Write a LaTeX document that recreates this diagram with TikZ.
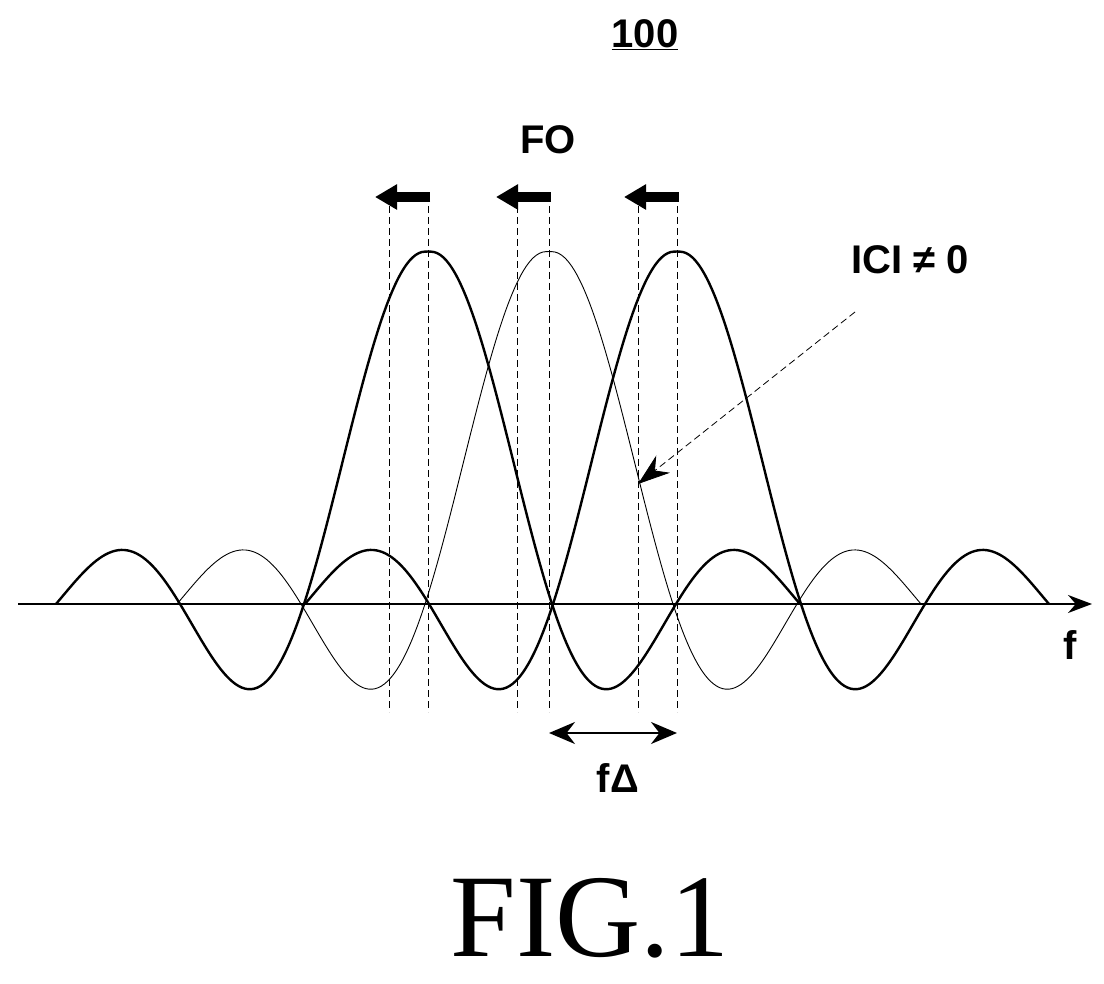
\documentclass[tikz,border=0pt]{standalone}
\usepackage{fontspec}
\setmainfont{Liberation Sans}
\newfontfamily\figfont{Liberation Serif}
\usetikzlibrary{arrows.meta}
\begin{document}
\begin{tikzpicture}[x=1pt,y=-1pt,
  thk/.style={line width=2.4pt},
  thn/.style={line width=0.9pt},
  dsh/.style={line width=0.8pt,dash pattern=on 7pt off 4pt},
  lbl/.style={font=\fontsize{40}{42}\selectfont\bfseries},
  blk/.style={line width=10pt,-{Triangle[length=22pt,width=24pt]}}]
\useasboundingbox (0,0) rectangle (1104,984);
\tikzset{sinc/.style={samples=241,domain=-3:3,smooth}}
% curves
\draw[thk] plot[sinc] ({428+124*\x},{604-352*(1+0.08*abs(\x))*sin(180*(\x+0.00001))/(pi*(\x+0.00001))});
\draw[thn] plot[sinc] ({549+124*\x},{604-352*(1+0.08*abs(\x))*sin(180*(\x+0.00001))/(pi*(\x+0.00001))});
\draw[thk] plot[sinc] ({677+124*\x},{604-352*(1+0.08*abs(\x))*sin(180*(\x+0.00001))/(pi*(\x+0.00001))});
% axis
\coordinate (a0) at (18,604); \coordinate (a1) at (1092,604);
\draw[line width=2pt,-{Stealth[length=24pt,width=18pt]}] (a0) -- (a1);
\node[lbl] (f) at (1070,645) {f};
% dashed lines
\foreach \x/\n in {389/d1,428/d2,517/d3,549/d4,638/d5,677/d6}{
  \coordinate (\n t) at (\x,195); \coordinate (\n b) at (\x,712);
  \draw[dsh] (\n t) -- (\n b);}
% block arrows
\foreach \x/\n in {430/b1,551/b2,679/b3}{
  \coordinate (\n s) at (\x,197); \coordinate (\n e) at (\x-55,197);
  \draw[blk] (\n s) -- (\n e);}
\node[lbl] (fo) at (548,140) {FO};
\node[lbl] (num) at (645,35) {\underline{100}};
% f delta
\coordinate (fl) at (549,733); \coordinate (fr) at (677,733);
\draw[line width=2.4pt,{Stealth[length=26pt,width=22pt]}-{Stealth[length=26pt,width=22pt]}] (fl) -- (fr);
\node[lbl] (fd) at (618,778) {fΔ};
% ICI
\node[lbl] (ici) at (910,260) {ICI ≠ 0};
\coordinate (is) at (855,312); \coordinate (ie) at (638,484);
\draw[dsh,-{Stealth[length=32pt,width=22pt]}] (is) -- (ie);
\node[font=\figfont\fontsize{118}{120}\selectfont] (fig) at (590,918) {FIG.1};
\end{tikzpicture}
\end{document}
